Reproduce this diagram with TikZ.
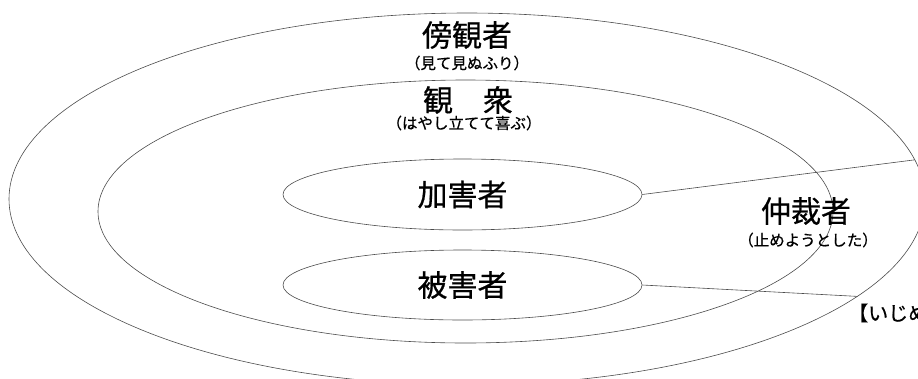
\documentclass[tikz,border=0pt]{standalone}
\usepackage{fontspec}
\setmainfont{Noto Sans CJK JP}[FakeBold=0.6]
\usetikzlibrary{calc}
\usetikzlibrary{shapes.geometric}
\usetikzlibrary{positioning}

\begin{document}
\begin{tikzpicture}[x=1pt, y=-1pt,
    ring/.style={ellipse, draw=black!70, line width=0.6pt, inner sep=0pt},
    role/.style={font=\fontsize{30}{30}\selectfont, inner sep=0pt},
    note/.style={font=\fontsize{15.5}{16}\selectfont, inner sep=0pt},
    link/.style={draw=black!70, line width=0.6pt}]
            \useasboundingbox (0, 0) rectangle (918, 378);
            % rings
            \node[ring, minimum width=916pt, minimum height=372pt] (bystander) at (467, 199) {};
            \node[ring, minimum width=735pt, minimum height=263pt] (audience) at (465.5, 211.5) {};
            \node[ring, role, minimum width=359pt, minimum height=71pt] (bully) at (462.5, 194.5) {加害者};
            \node[ring, role, minimum width=359pt, minimum height=70pt] (victim) at (462.5, 285) {被害者};
            % labels
            \node[role] (bystanderlabel) at (467, 35) {傍観者};
            \node[note] (bystandernote) at ($(bystanderlabel) + (0, 28)$) {（見て見ぬふり）};
            \node[role] (audiencelabel) at (468, 100) {観　衆};
            \node[note] (audiencenote) at ($(audiencelabel) + (-4, 23)$) {（はやし立てて喜ぶ）};
            \node[role] (mediatorlabel) at (806, 211) {仲裁者};
            \node[note] (mediatornote) at ($(mediatorlabel) + (2, 29)$) {（止めようとした）};
            \node[font=\fontsize{20}{20}\selectfont, inner sep=0pt, anchor=west] (title) at (848, 313) {【いじめ};
            % connectors
            \draw[link] (bully.east) -- (bystander.5);
            \draw[link] (victim.east) -- (bystander.-14);
        \end{tikzpicture}
\end{document}
